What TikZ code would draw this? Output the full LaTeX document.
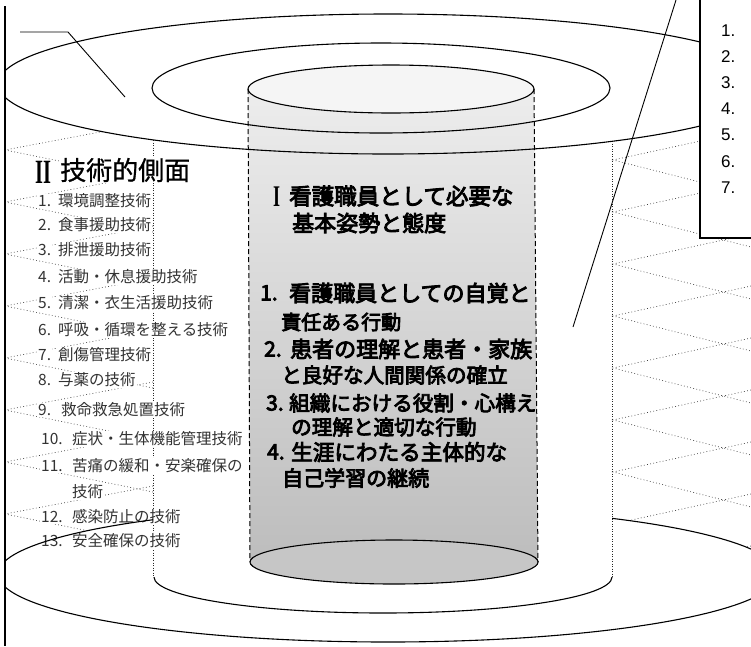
\documentclass[tikz,border=0pt]{standalone}
\usepackage{fontspec}
\newfontfamily\jp{Noto Sans CJK JP}
\newfontfamily\jpm[FakeBold=0.8]{Noto Sans CJK JP}
\newfontfamily\jpb[FakeBold=4]{Noto Sans CJK JP}
\newfontfamily\arial{Liberation Sans}
\newfontfamily\romnum[FakeStretch=0.6]{Liberation Serif}
\begin{document}
\begin{tikzpicture}[x=1pt,y=-1pt,
  lattice/.style={black!75, line width=0.65pt, dash pattern=on 0.8pt off 2.4pt},
  midside/.style={black!85, line width=0.7pt, dash pattern=on 0.7pt off 1.8pt},
  innerside/.style={black, line width=1pt, dash pattern=on 5pt off 3pt},
  outline/.style={black, line width=1.1pt},
  lst/.style={font=\jp\fontsize{15.5}{15.5}\selectfont, text=black!80, fill=white, inner sep=1pt, anchor=west},
  inr/.style={anchor=west, inner sep=0pt},
  rnum/.style={font=\arial\fontsize{17}{17}\selectfont, anchor=west, inner sep=0pt}]
\useasboundingbox (0,0) rectangle (751,646);
\clip (0,0) rectangle (751,646);
\fill[white] (0,0) rectangle (751,646);
% dotted lattice in the outer ring
\foreach \y in {150,202,...,566} { \draw[lattice] (153,\y-28) -- (5,\y) -- (153,\y+30); }
\foreach \y in {160,212,...,576} { \draw[lattice] (751,\y-30) -- (613,\y) -- (751,\y+35); }
% white masks
\fill[white] (388,84) ellipse [x radius=390, y radius=70];
\fill[white] (388,574) ellipse [x radius=390, y radius=68];
\fill[white] (0,574) rectangle (751,646);
% inner cylinder fill
\shade[top color=gray!12, bottom color=gray!52]
  (248,89) -- (250,562) arc[start angle=180, end angle=360, x radius=144, y radius=22]
  -- (534,89) arc[start angle=0, end angle=-180, x radius=143, y radius=24] -- cycle;
\fill[gray!8] (391,89) ellipse [x radius=143, y radius=24];
% middle cylinder dotted sides
\draw[midside] (153,140) -- (153,577);
\draw[midside] (612,141) -- (612,577);
% left list
\node[lst, inner sep=0pt] (t2a) at (35,172) {\romnum\bfseries\fontsize{34}{34}\selectfont\color{black}II};
\node[lst] (t2) at (59,170) {\jpm\fontsize{26}{26}\selectfont\color{black}技術的側面};
\node[lst] (n1) at (37,201) {1.};  \node[lst] (l1) at (57,201) {環境調整技術};
\node[lst] (n2) at (37,225) {2.};  \node[lst] (l2) at (57,225) {食事援助技術};
\node[lst] (n3) at (37,250) {3.};  \node[lst] (l3) at (57,250) {排泄援助技術};
\node[lst] (n4) at (37,277) {4.};  \node[lst] (l4) at (57,277) {活動・休息援助技術};
\node[lst] (n5) at (37,303) {5.};  \node[lst] (l5) at (57,303) {清潔・衣生活援助技術};
\node[lst] (n6) at (37,330) {6.};  \node[lst] (l6) at (57,330) {呼吸・循環を整える技術};
\node[lst] (n7) at (37,355) {7.};  \node[lst] (l7) at (57,355) {創傷管理技術};
\node[lst] (n8) at (37,380) {8.};  \node[lst] (l8) at (57,380) {与薬の技術};
\node[lst] (n9) at (37,410) {9.};  \node[lst] (l9) at (60,410) {救命救急処置技術};
\node[lst] (n10) at (40,439) {10.}; \node[lst] (l10) at (71,439) {症状・生体機能管理技術};
\node[lst] (n11) at (40,466) {11.}; \node[lst] (l11) at (71,466) {苦痛の緩和・安楽確保の};
\node[lst] (l11b) at (71,492) {技術};
\node[lst] (n12) at (40,517) {12.}; \node[lst] (l12) at (71,517) {感染防止の技術};
\node[lst] (n13) at (40,541) {13.}; \node[lst] (l13) at (71,541) {安全確保の技術};
% outlines
\draw[outline] (388,84) ellipse [x radius=390, y radius=70];
\draw[outline] (381,88) ellipse [x radius=229, y radius=45];
\draw[outline] (391,89) ellipse [x radius=143, y radius=24];
\draw[innerside] (248,89) -- (250,562);
\draw[innerside] (534,89) -- (538,562);
\draw[outline, fill=gray!45] (394,562) ellipse [x radius=144, y radius=22];
\begin{scope}
  \clip (0,577) rectangle (751,646);
  \draw[outline] (383,577) ellipse [x radius=229, y radius=36];
\end{scope}
\begin{scope}
  \clip (0,0) rectangle (153,574) (612,0) rectangle (751,574) (0,574) rectangle (751,646);
  \draw[outline] (388,574) ellipse [x radius=390, y radius=68];
\end{scope}
% inner texts
\node[inr, font=\romnum\bfseries\fontsize{30}{30}\selectfont] (i0a) at (273,197) {I};
\node[inr, font=\jpb\fontsize{22.5}{22.5}\selectfont] (i0) at (289,196) {看護職員として必要な};
\node[inr, font=\jpb\fontsize{22}{22}\selectfont] (i0b) at (292,223) {基本姿勢と態度};
\node[inr, font=\jpb\fontsize{21}{21}\selectfont] (m1) at (260,293) {1.};
\node[inr, font=\jpb\fontsize{22}{22}\selectfont] (i1) at (289,293) {看護職員としての自覚と};
\node[inr, font=\jpb\fontsize{20}{20}\selectfont] (i1b) at (281,322) {責任ある行動};
\node[inr, font=\jpb\fontsize{21}{21}\selectfont] (m2) at (264,349) {2.};
\node[inr, font=\jpb\fontsize{22}{22}\selectfont] (i2) at (290,349) {患者の理解と患者・家族};
\node[inr, font=\jpb\fontsize{20.6}{20.6}\selectfont] (i2b) at (281,375) {と良好な人間関係の確立};
\node[inr, font=\jpb\fontsize{21}{21}\selectfont] (m3) at (266,403) {3.};
\node[inr, font=\jpb\fontsize{20.6}{20.6}\selectfont] (i3) at (289,403) {組織における役割・心構え};
\node[inr, font=\jpb\fontsize{20.6}{20.6}\selectfont] (i3b) at (291,427) {の理解と適切な行動};
\node[inr, font=\jpb\fontsize{21}{21}\selectfont] (m4) at (267,452) {4.};
\node[inr, font=\jpb\fontsize{21.6}{21.6}\selectfont] (i4) at (291,452) {生涯にわたる主体的な};
\node[inr, font=\jpb\fontsize{21}{21}\selectfont] (i4b) at (282,478) {自己学習の継続};
% left frame and callout
\fill[white] (0,0) rectangle (5,646);
\draw[line width=1.2pt] (5,6) -- (5,646);
\coordinate (c1) at (20,32); \coordinate (c2) at (68,32); \coordinate (c3) at (125,97);
\draw[line width=0.9pt] (c1) -- (c2) -- (c3);
% right box
\fill[white] (700,0) rectangle (751,238);
\draw[line width=1.2pt] (700,0) -- (700,238) -- (751,238);
\node[rnum] (r1) at (721,31) {1.};
\node[rnum] (r2) at (721,57) {2.};
\node[rnum] (r3) at (721,83) {3.};
\node[rnum] (r4) at (721,109) {4.};
\node[rnum] (r5) at (721,135) {5.};
\node[rnum] (r6) at (721,162) {6.};
\node[rnum] (r7) at (721,188) {7.};
\coordinate (d1) at (676,0); \coordinate (d2) at (573,327);
\draw[line width=0.9pt] (d1) -- (d2);
\end{tikzpicture}
\end{document}
